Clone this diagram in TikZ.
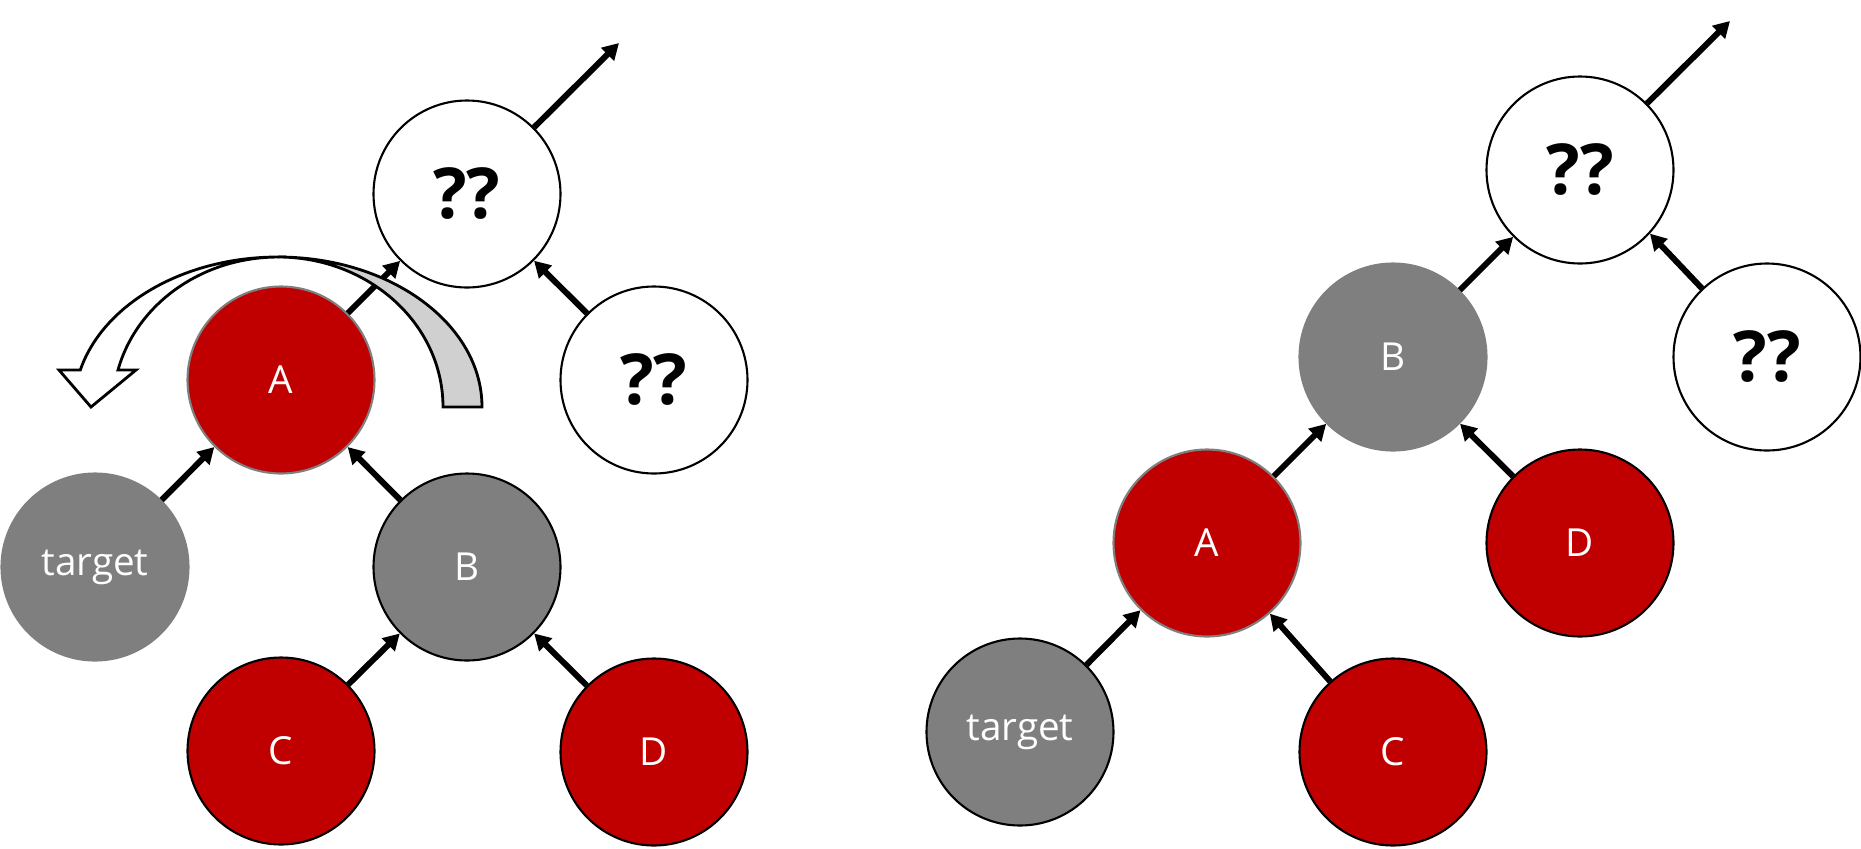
\documentclass[tikz,border=0pt]{standalone}
\usepackage{fontspec}
\setmainfont{Open Sans}
\usetikzlibrary{arrows.meta}
\definecolor{nodered}{RGB}{192,0,0}
\definecolor{nodegray}{RGB}{127,127,127}
\definecolor{bandgray}{RGB}{208,208,208}
\begin{document}
\begin{tikzpicture}[>/.tip={Triangle[length=4.6pt,width=5pt]},
	link/.style={line width=1.7pt},
	treenode/.style={draw,shape=circle,minimum size=1.87cm,inner sep=0pt,line width=0.6pt,font=\fontsize{11}{13}\selectfont},
	rednode/.style={treenode,fill=nodered,text=white},
	graynode/.style={treenode,fill=nodegray,text=white},
	qnode/.style={treenode,fill=white,font=\fontsize{20}{24}\selectfont\bfseries}]
	\useasboundingbox (0,0) rectangle (18.61,-8.48);

	% before the rotation
	\draw (4.67,-1.94) node (Q1) [qnode] {??};
	\draw (6.54,-3.80) node (R1) [qnode] {??};
	\draw (2.81,-3.80) node (A1) [rednode,draw=nodegray] {A};
	\draw (0.95,-5.67) node (T1) [graynode,draw=nodegray] {target};
	\draw (4.67,-5.67) node (B1) [graynode] {B};
	\draw (2.81,-7.51) node (C1) [rednode] {C};
	\draw (6.54,-7.52) node (D1) [rednode] {D};
	\coordinate (up1) at (6.19,-0.43);

	\draw[->,link] (Q1) edge (up1);
	\draw[->,link] (R1) edge (Q1);
	\draw[->,link] (A1) edge (Q1);
	\draw[->,link] (T1) edge (A1);
	\draw[->,link] (B1) edge (A1);
	\draw[->,link] (C1) edge (B1);
	\draw[->,link] (D1) edge (B1);

	% rotation arrow
	\draw[line width=0.8pt,fill=bandgray] (2.78,-2.57) arc[start angle=90,end angle=0,x radius=2.04,y radius=1.5]
		-- ++(-0.39,0) arc[start angle=0,end angle=90,x radius=1.65,y radius=1.5] -- cycle;
	\draw[line width=0.8pt,fill=white] (2.78,-2.57) arc[start angle=90,end angle=165.7,x radius=2.04,y radius=1.5]
		-- (0.59,-3.70) -- (0.91,-4.07) -- (1.36,-3.70) -- (1.18,-3.70)
		arc[start angle=165.7,end angle=90,x radius=1.65,y radius=1.5] -- cycle;

	% after the rotation
	\draw (15.80,-1.70) node (Q2) [qnode] {??};
	\draw (17.67,-3.57) node (R2) [qnode] {??};
	\draw (13.93,-3.57) node (B2) [graynode,draw=nodegray] {B};
	\draw (15.80,-5.43) node (D2) [rednode] {D};
	\draw (12.07,-5.43) node (A2) [rednode,draw=nodegray] {A};
	\draw (10.20,-7.32) node (T2) [graynode] {target};
	\draw (13.93,-7.52) node (C2) [rednode] {C};
	\coordinate (up2) at (17.30,-0.21);

	\draw[->,link] (Q2) edge (up2);
	\draw[->,link] (R2) edge (Q2);
	\draw[->,link] (B2) edge (Q2);
	\draw[->,link] (D2) edge (B2);
	\draw[->,link] (A2) edge (B2);
	\draw[->,link] (T2) edge (A2);
	\draw[->,link] (C2) edge (A2);
\end{tikzpicture}
\end{document}
